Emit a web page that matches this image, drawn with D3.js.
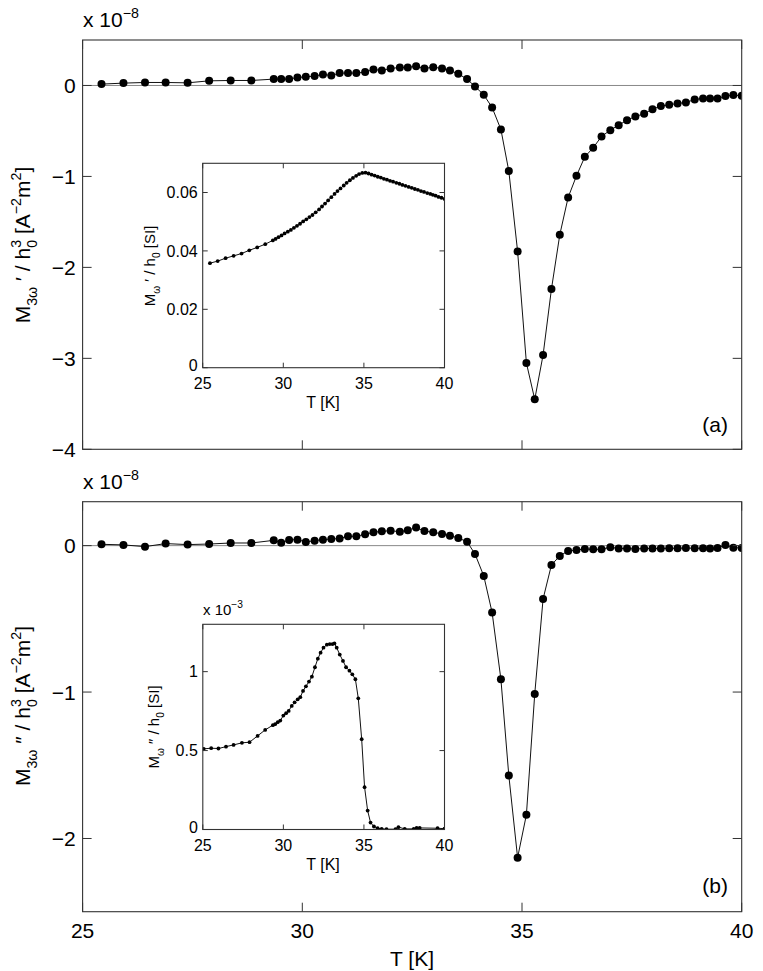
<!DOCTYPE html>
<html><head><meta charset="utf-8">
<script src="https://cdn.jsdelivr.net/npm/d3@7"></script>
<style>body{margin:0;background:#fff} text{font-family:"Liberation Sans",Arial,Helvetica,sans-serif;fill:#000}</style>
</head><body><svg id="c" width="763" height="971"></svg>
<script>
// ---- data ----
const T_main = [25.43,25.93,26.42,26.89,27.39,27.88,28.37,28.84,29.35,29.52,29.70,29.89,30.08,30.28,30.47,30.66,30.85,31.04,31.23,31.43,31.62,31.81,32.01,32.22,32.40,32.59,32.78,32.98,33.18,33.36,33.55,33.75,33.93,34.13,34.32,34.52,34.70,34.90,35.10,35.29,35.48,35.67,35.86,36.05,36.24,36.43,36.62,36.81,37.01,37.20,37.39,37.58,37.78,37.97,38.16,38.35,38.54,38.73,38.93,39.12,39.28,39.45,39.63,39.81,40.00];
const M3re = [0.015,0.026,0.033,0.033,0.029,0.051,0.055,0.055,0.070,0.070,0.070,0.088,0.095,0.103,0.121,0.110,0.136,0.136,0.136,0.147,0.176,0.165,0.187,0.198,0.198,0.212,0.187,0.201,0.187,0.165,0.128,0.070,-0.011,-0.103,-0.242,-0.484,-0.941,-1.824,-3.051,-3.451,-2.963,-2.238,-1.641,-1.231,-0.993,-0.784,-0.685,-0.560,-0.491,-0.436,-0.381,-0.341,-0.311,-0.260,-0.227,-0.212,-0.198,-0.187,-0.154,-0.143,-0.143,-0.143,-0.117,-0.106,-0.113];
const M3im = [0.009,0.005,-0.007,0.014,0.007,0.011,0.018,0.018,0.036,0.020,0.039,0.041,0.025,0.034,0.041,0.045,0.048,0.064,0.064,0.077,0.091,0.098,0.102,0.095,0.105,0.123,0.100,0.091,0.080,0.068,0.052,0.027,-0.057,-0.207,-0.457,-0.913,-1.570,-2.131,-1.838,-1.013,-0.364,-0.132,-0.070,-0.036,-0.030,-0.023,-0.025,-0.025,-0.011,-0.020,-0.020,-0.023,-0.020,-0.020,-0.020,-0.018,-0.018,-0.016,-0.018,-0.018,-0.020,-0.016,0.005,-0.014,-0.016];

const T_inA = [25.45,25.93,26.42,26.92,27.41,27.89,28.38,28.88,29.35,29.52,29.70,29.89,30.08,30.28,30.47,30.66,30.85,31.04,31.23,31.43,31.62,31.81,32.01,32.22,32.40,32.59,32.78,32.98,33.18,33.36,33.55,33.75,33.93,34.13,34.32,34.52,34.70,34.90,35.10,35.29,35.48,35.67,35.86,36.05,36.24,36.43,36.62,36.81,37.01,37.20,37.39,37.58,37.78,37.97,38.16,38.35,38.54,38.73,38.93,39.12,39.28,39.45,39.63,39.81,40.00];
const M1re = [0.0358,0.0365,0.0375,0.0383,0.0391,0.0402,0.0412,0.0423,0.0436,0.0441,0.0447,0.0453,0.0460,0.0466,0.0472,0.0479,0.0486,0.0493,0.0501,0.0508,0.0516,0.0523,0.0532,0.0542,0.0552,0.0562,0.0573,0.0584,0.0595,0.0605,0.0614,0.0624,0.0633,0.0642,0.0650,0.0657,0.0663,0.0667,0.0668,0.0665,0.0661,0.0658,0.0654,0.0651,0.0647,0.0644,0.0640,0.0637,0.0633,0.0630,0.0626,0.0623,0.0619,0.0616,0.0612,0.0609,0.0605,0.0602,0.0598,0.0595,0.0592,0.0589,0.0585,0.0582,0.0578];

const T_inB = [25.06,25.52,25.97,26.44,26.91,27.43,27.90,28.40,28.87,29.35,29.49,29.65,29.81,30.00,30.17,30.33,30.52,30.70,30.89,31.05,31.22,31.40,31.59,31.77,31.96,32.14,32.31,32.49,32.70,32.88,33.05,33.17,33.31,33.50,33.70,33.89,34.10,34.28,34.47,34.65,34.86,35.04,35.23,35.41,35.62,35.85,36.10,36.40,36.96,37.14,37.53,38.09,38.27,38.46,39.57,40.00];
const M1im = [0.511,0.515,0.513,0.525,0.536,0.549,0.553,0.593,0.631,0.661,0.667,0.680,0.690,0.722,0.737,0.751,0.783,0.806,0.825,0.838,0.878,0.907,0.937,0.968,1.028,1.082,1.120,1.152,1.171,1.175,1.175,1.179,1.152,1.108,1.068,1.028,1.006,0.983,0.952,0.831,0.572,0.268,0.120,0.044,0.019,0.008,0.004,0.002,0.002,0.015,0.004,0.004,0.010,0.010,0.008,0.005];

const xTicks = [25,30,35,40];
const yTicksA = [0,-1,-2,-3,-4];
const yTicksB = [0,-1,-2];
const yTicksInA = [0,0.02,0.04,0.06];
const yTicksInB = [0,0.5,1];

// ---- drawing ----
const svg = d3.select('#c');
const AX = '#333';

function rich(sel, parts, size){
  let off = 0;
  parts.forEach(p=>{
    const k = p[1]||'n';
    const fs = k==='n'? size : size*0.68;
    const target = k==='sub'? size*0.32 : k==='sup'? -size*0.45 : 0;
    const ts = sel.append('tspan').attr('font-size', fs).attr('dy', target-off).text(p[0]);
    if (p[2]) ts.attr('dx', p[2]);
    off = target;
  });
  if (off!==0) sel.append('tspan').attr('dy', -off).text('');
}

function fmtMinus(v){ return v<0 ? '\u2212'+Math.abs(v) : String(v); }

function panel(o){
  const g = svg.append('g');
  const x = d3.scaleLinear().domain([25,40]).range([o.x0,o.x1]);
  const y = d3.scaleLinear().domain(o.yd).range([o.y1,o.y0]);
  if (o.bg) g.append('rect').attr('x',o.x0).attr('y',o.y0).attr('width',o.x1-o.x0).attr('height',o.y1-o.y0).attr('fill','#fff');
  const cid = 'clip'+Math.round(o.y0);
  svg.append('clipPath').attr('id',cid).append('rect').attr('x',o.x0).attr('y',o.y0).attr('width',o.x1-o.x0).attr('height',o.y1-o.y0);
  if (o.zero){
    g.append('line').attr('x1',o.x0).attr('x2',o.x1).attr('y1',y(0)).attr('y2',y(0)).attr('stroke','#888').attr('stroke-width',1);
  }
  const data = o.T.map((t,i)=>[t,o.V[i]]);
  const pg = g.append('g').attr('clip-path',`url(#${cid})`);
  pg.append('path').datum(data).attr('d', d3.line().x(d=>x(d[0])).y(d=>y(d[1])))
    .attr('fill','none').attr('stroke','#111').attr('stroke-width',o.lw);
  pg.selectAll('circle').data(data).join('circle').attr('cx',d=>x(d[0])).attr('cy',d=>y(d[1])).attr('r',o.r).attr('fill','#000');
  g.append('rect').attr('x',o.x0).attr('y',o.y0).attr('width',o.x1-o.x0).attr('height',o.y1-o.y0)
    .attr('fill','none').attr('stroke',AX).attr('stroke-width',1.1);
  const L = o.tl;
  xTicks.forEach(t=>{
    g.append('line').attr('x1',x(t)).attr('x2',x(t)).attr('y1',o.y1).attr('y2',o.y1-L).attr('stroke',AX);
    g.append('line').attr('x1',x(t)).attr('x2',x(t)).attr('y1',o.y0).attr('y2',o.y0+L).attr('stroke',AX);
    if (o.xlab) g.append('text').attr('x',x(t)).attr('y',o.y1+o.xlabDy).attr('text-anchor','middle').attr('font-size',o.fs).text(t);
  });
  o.yt.forEach(t=>{
    g.append('line').attr('x1',o.x0).attr('x2',o.x0+L).attr('y1',y(t)).attr('y2',y(t)).attr('stroke',AX);
    g.append('line').attr('x1',o.x1).attr('x2',o.x1-L).attr('y1',y(t)).attr('y2',y(t)).attr('stroke',AX);
    const yy = (o.xlab && t===0 && o.bg) ? y(t)+o.fs*0.2 : y(t)+o.fs*0.36;
    g.append('text').attr('x',o.x0-o.ylabDx).attr('y',yy).attr('text-anchor','end').attr('font-size',o.fs).text(fmtMinus(t));
  });
  return {x,y,g};
}

panel({x0:82.6,x1:741.7,y0:40,y1:449.3,yd:[-4,0.5],yt:yTicksA,T:T_main,V:M3re,r:4,lw:1,tl:9,fs:21,ylabDx:7,xlab:false,zero:true});
panel({x0:82.6,x1:741.7,y0:501.7,y1:911.7,yd:[-2.5,0.3],yt:yTicksB,T:T_main,V:M3im,r:4,lw:1,tl:9,fs:21,ylabDx:7,xlab:true,xlabDy:26,zero:true});
panel({x0:202.7,x1:444.5,y0:163.3,y1:367.7,yd:[0,0.07],yt:yTicksInA,T:T_inA,V:M1re,r:1.9,lw:1,tl:5,fs:16,ylabDx:5,xlab:true,xlabDy:21,zero:false,bg:true});
panel({x0:202.8,x1:444.5,y0:624.3,y1:829.5,yd:[0,1.3],yt:yTicksInB,T:T_inB,V:M1im,r:1.9,lw:1,tl:5,fs:16,ylabDx:5,xlab:true,xlabDy:21,zero:false,bg:true});

function expo(xp, yp, e, fs){
  const t = svg.append('text').attr('x',xp).attr('y',yp).attr('font-size',fs);
  rich(t, [['x 10'],[e,'sup']], fs);
}
expo(83, 27, '\u22128', 21);
expo(83, 489, '\u22128', 21);
expo(203, 615, '\u22123', 15);

function ylab(cx, cy, parts, fs){
  const t = svg.append('text').attr('transform',`translate(${cx},${cy}) rotate(-90)`).attr('text-anchor','middle').attr('font-size',fs);
  rich(t, parts, fs);
}
const fsL = 21;
ylab(30, 245, [['M'],['3\u03c9','sub'],[' \u2032 / h'],['0','sub'],['3','sup',-fsL*0.68*0.56],[' [A'],['\u22122','sup'],['m'],['2','sup'],[']']], fsL);
ylab(30, 706, [['M'],['3\u03c9','sub'],[' \u2033 / h'],['0','sub'],['3','sup',-fsL*0.68*0.56],[' [A'],['\u22122','sup'],['m'],['2','sup'],[']']], fsL);
const fsI = 15;
ylab(155, 266, [['M'],['\u03c9','sub'],[' \u2032 / h'],['0','sub'],[' [SI]']], fsI);
ylab(159, 727, [['M'],['\u03c9','sub'],[' \u2033 / h'],['0','sub'],[' [SI]']], fsI);

svg.append('text').attr('x',412).attr('y',966).attr('text-anchor','middle').attr('font-size',21).text('T [K]');
svg.append('text').attr('x',323).attr('y',408).attr('text-anchor','middle').attr('font-size',16).text('T [K]');
svg.append('text').attr('x',323).attr('y',870).attr('text-anchor','middle').attr('font-size',16).text('T [K]');
svg.append('text').attr('x',728).attr('y',432).attr('text-anchor','end').attr('font-size',21).text('(a)');
svg.append('text').attr('x',728).attr('y',893).attr('text-anchor','end').attr('font-size',21).text('(b)');
</script></body></html>
